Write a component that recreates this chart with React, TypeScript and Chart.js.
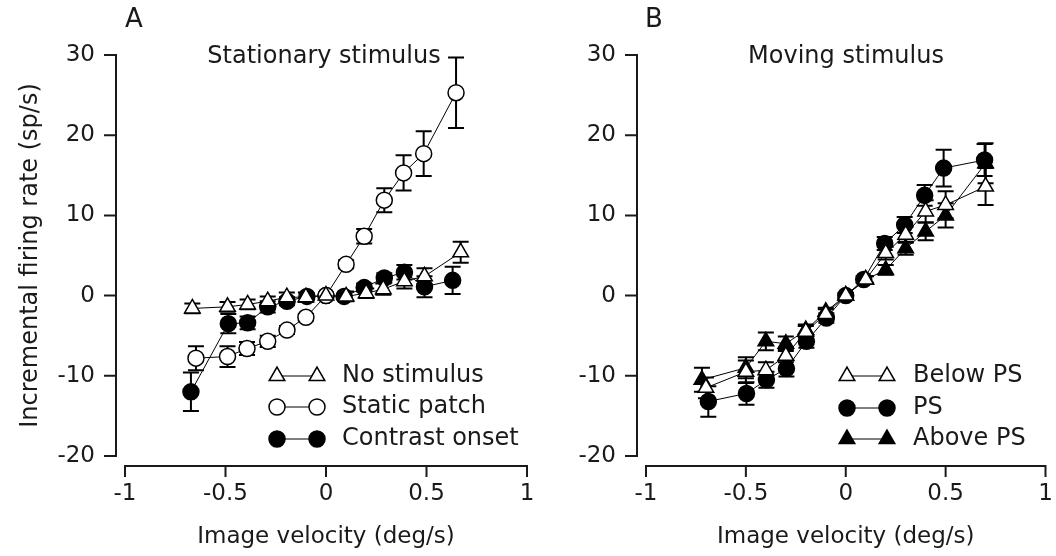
import React, { useEffect, useRef } from "react";
import { Chart, registerables } from "chart.js";
Chart.register(...registerables);

const FONT = "'DejaVu Sans', sans-serif";
const INK = "#1a1a1a";

// ---------- Panel A : Stationary stimulus ----------
const noStimX = [-0.665, -0.49, -0.39, -0.29, -0.195, -0.1, 0, 0.1, 0.2, 0.285, 0.39, 0.49, 0.67];
const noStimY = [-1.6, -1.4, -1.1, -0.7, -0.2, -0.2, 0, -0.1, 0.3, 0.8, 1.8, 2.4, 5.4];
const noStimErr = [0.6, 0.6, 0.6, 0.6, 0.6, 0.6, 0.3, 0.6, 0.6, 0.7, 0.9, 1.0, 1.3];

const staticX = [-0.647, -0.49, -0.393, -0.29, -0.194, -0.1, 0, 0.1, 0.19, 0.29, 0.386, 0.486, 0.647];
const staticY = [-7.8, -7.6, -6.6, -5.7, -4.3, -2.7, 0, 3.9, 7.4, 11.9, 15.3, 17.7, 25.3];
const staticErr = [1.5, 1.3, 0.8, 0.7, 0.5, 0.4, 0.3, 0.5, 0.9, 1.5, 2.2, 2.8, 4.4];

const onsetX = [-0.672, -0.486, -0.39, -0.29, -0.194, -0.095, 0, 0.09, 0.19, 0.29, 0.39, 0.49, 0.63];
const onsetY = [-12.0, -3.5, -3.4, -1.4, -0.7, -0.1, 0, -0.1, 1.0, 2.2, 2.9, 1.1, 1.9];
const onsetErr = [2.4, 1.2, 0.8, 0.7, 0.5, 0.4, 0.3, 0.3, 0.5, 0.6, 0.9, 1.3, 1.7];

// ---------- Panel B : Moving stimulus ----------
const belowX = [-0.7, -0.5, -0.4, -0.3, -0.2, -0.1, 0, 0.1, 0.2, 0.3, 0.4, 0.5, 0.7];
const belowY = [-11.5, -9.5, -9.3, -7.5, -4.5, -2.3, 0, 2.0, 5.3, 7.6, 10.5, 11.3, 13.6];
const belowErr = [1.3, 1.4, 1.0, 0.8, 0.7, 0.6, 0.3, 0.4, 0.8, 1.0, 1.4, 1.7, 2.3];

const psX = [-0.688, -0.497, -0.397, -0.297, -0.197, -0.097, 0, 0.09, 0.195, 0.295, 0.395, 0.49, 0.695];
const psY = [-13.2, -12.2, -10.5, -9.1, -5.7, -2.8, 0, 2.0, 6.5, 8.8, 12.5, 15.9, 16.9];
const psErr = [1.9, 1.4, 1.0, 1.0, 0.8, 0.6, 0.3, 0.4, 0.8, 1.0, 1.3, 2.3, 2.0];

const aboveX = [-0.72, -0.5, -0.4, -0.3, -0.2, -0.1, 0, 0.1, 0.2, 0.3, 0.4, 0.5, 0.7];
const aboveY = [-10.5, -9.0, -5.7, -6.0, -4.3, -2.0, 0, 2.0, 3.2, 5.9, 8.0, 10.0, 16.5];
const aboveErr = [1.5, 1.3, 1.1, 0.9, 0.7, 0.5, 0.3, 0.4, 0.6, 0.8, 1.1, 1.5, 2.5];

const xMin = -1, xMax = 1, xStep = 0.5;
const yMin = -20, yMax = 30, yStep = 10;
const xTitle = "Image velocity (deg/s)";
const yTitle = "Incremental firing rate (sp/s)";

type Series = {
  label: string; xs: number[]; ys: number[]; errs: number[];
  shape: "triangle" | "circle"; filled: boolean;
};

const seriesA: Series[] = [
  { label: "No stimulus", xs: noStimX, ys: noStimY, errs: noStimErr, shape: "triangle", filled: false },
  { label: "Static patch", xs: staticX, ys: staticY, errs: staticErr, shape: "circle", filled: false },
  { label: "Contrast onset", xs: onsetX, ys: onsetY, errs: onsetErr, shape: "circle", filled: true },
];
const seriesB: Series[] = [
  { label: "Below PS", xs: belowX, ys: belowY, errs: belowErr, shape: "triangle", filled: false },
  { label: "PS", xs: psX, ys: psY, errs: psErr, shape: "circle", filled: true },
  { label: "Above PS", xs: aboveX, ys: aboveY, errs: aboveErr, shape: "triangle", filled: true },
];

const CIRCLE_R = 8;
const TRI_R = 9;

function drawMarker(ctx: CanvasRenderingContext2D, shape: string, filled: boolean, x: number, y: number) {
  ctx.save();
  ctx.beginPath();
  if (shape === "circle") {
    ctx.arc(x, y, CIRCLE_R, 0, Math.PI * 2);
  } else {
    const r = TRI_R;
    const h = r * 1.5;
    const s = r * Math.sqrt(3);
    ctx.moveTo(x, y - r);
    ctx.lineTo(x + s / 2, y - r + h);
    ctx.lineTo(x - s / 2, y - r + h);
    ctx.closePath();
  }
  ctx.fillStyle = filled ? "#000" : "#fff";
  ctx.fill();
  ctx.lineWidth = 1.5;
  ctx.strokeStyle = "#000";
  ctx.stroke();
  ctx.restore();
}

const decorPlugin = {
  id: "decor",
  beforeDatasetsDraw(chart: any) {
    const ctx = chart.ctx as CanvasRenderingContext2D;
    const ys = chart.scales.y;
    ctx.save();
    ctx.strokeStyle = "#000";
    ctx.lineWidth = 2;
    chart.data.datasets.forEach((ds: any, i: number) => {
      const meta = chart.getDatasetMeta(i);
      meta.data.forEach((pt: any, j: number) => {
        const e = ds.errs[j];
        const v = ds.data[j].y;
        const y1 = ys.getPixelForValue(v - e);
        const y2 = ys.getPixelForValue(v + e);
        const x = pt.x;
        const cap = 8;
        ctx.beginPath();
        ctx.moveTo(x, y1); ctx.lineTo(x, y2);
        ctx.moveTo(x - cap, y1); ctx.lineTo(x + cap, y1);
        ctx.moveTo(x - cap, y2); ctx.lineTo(x + cap, y2);
        ctx.stroke();
      });
    });
    ctx.restore();
  },
  afterDraw(chart: any, _args: any, opts: any) {
    const ctx = chart.ctx as CanvasRenderingContext2D;
    const xs = chart.scales.x;
    const ys = chart.scales.y;
    const area = chart.chartArea;
    ctx.save();
    ctx.strokeStyle = INK;
    ctx.lineWidth = 2;
    // y axis (offset to the left)
    const ax = area.left - 9;
    ctx.beginPath();
    ctx.moveTo(ax, ys.getPixelForValue(yMax));
    ctx.lineTo(ax, ys.getPixelForValue(yMin));
    ys.ticks.forEach((t: any) => {
      const py = ys.getPixelForValue(t.value);
      ctx.moveTo(ax - 12, py); ctx.lineTo(ax + 1, py);
    });
    ctx.stroke();
    // x axis (offset downward)
    const ay = area.bottom + 10;
    ctx.beginPath();
    ctx.moveTo(xs.getPixelForValue(xMin) - 1, ay);
    ctx.lineTo(xs.getPixelForValue(xMax) + 1, ay);
    xs.ticks.forEach((t: any) => {
      const px = xs.getPixelForValue(t.value);
      ctx.moveTo(px, ay - 1); ctx.lineTo(px, ay + 11);
    });
    ctx.stroke();

    // legend
    ctx.lineWidth = 1;
    ctx.strokeStyle = "#000";
    chart.data.datasets.forEach((ds: any, i: number) => {
      const ly = opts.legendY[i];
      ctx.beginPath();
      ctx.moveTo(opts.legendX1, ly); ctx.lineTo(opts.legendX2, ly);
      ctx.stroke();
      drawMarker(ctx, ds.shape, ds.filled, opts.legendX1, ly);
      drawMarker(ctx, ds.shape, ds.filled, opts.legendX2, ly);
      ctx.fillStyle = INK;
      ctx.font = `24px ${FONT}`;
      ctx.textAlign = "left";
      ctx.textBaseline = "middle";
      ctx.fillText(ds.label, opts.legendText, ly);
    });

    // panel title and letter
    ctx.fillStyle = INK;
    ctx.font = `24px ${FONT}`;
    ctx.textAlign = "center";
    ctx.textBaseline = "middle";
    ctx.fillText(opts.title, opts.titleX, opts.titleY);
    ctx.font = `26px ${FONT}`;
    ctx.textAlign = "left";
    ctx.fillText(opts.letter, opts.letterX, opts.letterY);
    ctx.restore();
  },
};

type PanelProps = {
  series: Series[]; width: number; yWidth: number; padRight: number; showYTitle: boolean;
  decor: any; left: number;
};

function Panel({ series, width, yWidth, padRight, showYTitle, decor, left }: PanelProps) {
  const ref = useRef<HTMLCanvasElement | null>(null);
  useEffect(() => {
    if (!ref.current) return;
    const datasets = series.map((s) => ({
      label: s.label,
      data: s.xs.map((x, i) => ({ x, y: s.ys[i] })),
      errs: s.errs,
      shape: s.shape,
      filled: s.filled,
      showLine: true,
      borderColor: "#000",
      borderWidth: 1,
      pointStyle: s.shape,
      pointRadius: s.shape === "circle" ? CIRCLE_R : TRI_R,
      pointBorderWidth: 1.5,
      pointBorderColor: "#000",
      pointBackgroundColor: s.filled ? "#000" : "#fff",
      clip: false,
      tension: 0,
    }));
    const chart = new Chart(ref.current, {
      type: "scatter",
      data: { datasets } as any,
      options: {
        animation: false,
        responsive: false,
        events: [],
        layout: { padding: { left: 0, right: padRight, top: 55, bottom: 0 } },
        plugins: {
          legend: { display: false },
          tooltip: { enabled: false },
          decor,
        } as any,
        scales: {
          x: {
            type: "linear",
            min: xMin, max: xMax,
            ticks: {
              stepSize: xStep, padding: 24, color: INK, font: { family: FONT, size: 23 },
              callback: (v: any) => String(v),
            },
            grid: { display: false, drawTicks: false },
            border: { display: false },
            title: { display: true, text: xTitle, color: INK, font: { family: FONT, size: 23 }, padding: { top: 0, bottom: 5 } },
            afterFit: (s: any) => { s.height = 100; s.paddingLeft = 0; s.paddingRight = 0; },
          },
          y: {
            type: "linear",
            min: yMin, max: yMax,
            ticks: { stepSize: yStep, padding: 30, color: INK, font: { family: FONT, size: 23 } },
            grid: { display: false, drawTicks: false },
            border: { display: false },
            title: { display: showYTitle, text: yTitle, color: INK, font: { family: FONT, size: 24 }, padding: { top: 16, bottom: 0 } },
            afterFit: (s: any) => { s.width = yWidth; s.paddingTop = 0; s.paddingBottom = 0; },
          },
        },
      } as any,
      plugins: [decorPlugin as any],
    });
    return () => chart.destroy();
  }, []);
  return (
    <canvas
      ref={ref}
      width={width}
      height={556}
      style={{ position: "absolute", left, top: 0, width, height: 556 }}
    />
  );
}

export default function App() {
  return (
    <div style={{ position: "absolute", left: 0, top: 0, width: 1056, height: 556, background: "#fff", overflow: "hidden" }}>
      <Panel
        series={seriesA}
        left={0}
        width={540}
        yWidth={125}
        padRight={13}
        showYTitle={true}
        decor={{
          legendX1: 277, legendX2: 317, legendText: 342, legendY: [376, 407, 439],
          title: "Stationary stimulus", titleX: 324, titleY: 57,
          letter: "A", letterX: 125, letterY: 20,
        }}
      />
      <Panel
        series={seriesB}
        left={540}
        width={516}
        yWidth={106}
        padRight={10}
        showYTitle={false}
        decor={{
          legendX1: 307, legendX2: 347, legendText: 373, legendY: [376, 408, 439],
          title: "Moving stimulus", titleX: 306, titleY: 57,
          letter: "B", letterX: 105, letterY: 20,
        }}
      />
    </div>
  );
}
